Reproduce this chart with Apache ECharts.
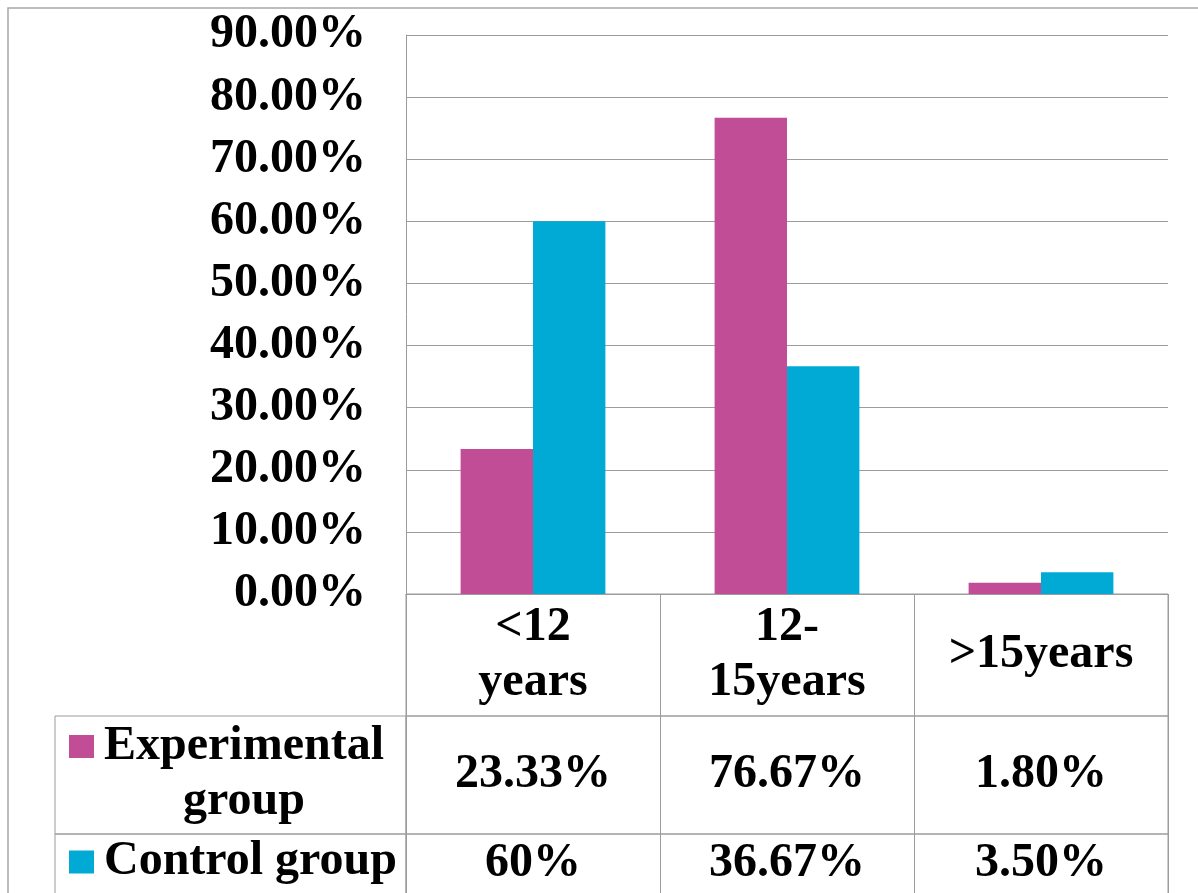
<!DOCTYPE html>
<html>
<head>
<meta charset="utf-8">
<title>Age groups</title>
<script src="https://cdn.jsdelivr.net/npm/echarts/dist/echarts.min.js"></script>
<style>
  html, body { margin: 0; padding: 0; background: #fff; }
  #chart { width: 1198px; height: 893px; }
</style>
</head>
<body>
<div id="chart"></div>
<script>
// Age categories along the x axis (also the header row of the data table)
const categories = ['<12\nyears', '12-\n15years', '>15years'];
const seriesNames = ['Experimental group', 'Control group'];
// Percentages as written in the data table; bars use the same numbers
const experimentalText = ['23.33', '76.67', '1.80'];
const controlText = ['60', '36.67', '3.50'];
// Legend cell text, wrapped as in the table
const legendLines = [['Experimental', 'group'], ['Control group']];
// Value axis range
const yMin = 0, yMax = 90, yStep = 10;
const seriesColors = ['#C24D97', '#00AAD5'];

const FONT = '"Liberation Serif", "Times New Roman", serif';
const LINE = '#9c9c9c';
const textBase = { fontFamily: FONT, fontSize: 48, fontWeight: 'bold', color: '#000' };

const rowTexts = [experimentalText, controlText];

function legendFormatter(i) {
  return () => {
    const lines = legendLines[i];
    let s = '{sq|}{gap|}{t|' + lines[0] + '}';
    for (let k = 1; k < lines.length; k++) s += '\n{pad|}{c|' + lines[k] + '}';
    return s;
  };
}

const chart = echarts.init(document.getElementById('chart'));

const tableGrid = (left, top, width, height) => ({
  left, top, width, height, show: true, borderColor: LINE, borderWidth: 1,
  backgroundColor: 'transparent', outerBoundsMode: 'none', containLabel: false
});

const option = {
  animation: false,
  backgroundColor: '#fff',
  grid: [
    { left: 406, top: 35, width: 762, height: 559, outerBoundsMode: 'none', containLabel: false },
    tableGrid(406, 594, 762, 122),
    tableGrid(406, 716, 762, 118),
    tableGrid(406, 834, 762, 60),
    tableGrid(55, 716, 351, 118),
    tableGrid(55, 834, 351, 60)
  ],
  xAxis: [
    {
      type: 'category', gridIndex: 0, data: categories,
      axisLine: { show: true, lineStyle: { color: LINE, width: 1 } },
      axisTick: { show: false },
      splitLine: { show: false },
      axisLabel: Object.assign({}, textBase, {
        interval: 0, margin: 61, verticalAlign: 'middle', lineHeight: 55, align: 'center'
      })
    },
    ...[1, 2, 3].map(g => ({
      type: 'category', gridIndex: g, data: categories,
      axisLine: { show: false }, axisTick: { show: false }, axisLabel: { show: false },
      splitLine: { show: true, interval: 0, lineStyle: { color: LINE, width: 1 } }
    })),
    { type: 'value', gridIndex: 4, show: false },
    { type: 'value', gridIndex: 5, show: false }
  ],
  yAxis: [
    {
      type: 'value', gridIndex: 0, min: yMin, max: yMax, interval: yStep,
      axisLine: { show: true, lineStyle: { color: LINE, width: 1 } },
      axisTick: { show: false },
      splitLine: { show: true, lineStyle: { color: LINE, width: 1 } },
      axisLabel: Object.assign({}, textBase, {
        margin: 40,
        formatter: v => v.toFixed(2) + '%'
      })
    },
    { type: 'value', gridIndex: 1, show: false },
    { type: 'category', gridIndex: 2, data: [seriesNames[0]], show: false },
    { type: 'category', gridIndex: 3, data: [seriesNames[1]], show: false },
    { type: 'value', gridIndex: 4, show: false },
    { type: 'value', gridIndex: 5, show: false }
  ],
  legend: seriesNames.map((name, i) => ({
    data: [name],
    orient: 'vertical',
    left: 64,
    top: [719, 834.5][i],
    padding: 0,
    itemWidth: 0,
    itemHeight: 0,
    selectedMode: false,
    formatter: legendFormatter(i),
    textStyle: Object.assign({}, textBase, {
      lineHeight: 55,
      rich: {
        sq: { width: 25, height: 23, backgroundColor: seriesColors[i] },
        gap: { width: 10 },
        pad: { width: 35 },
        t: Object.assign({}, textBase, { lineHeight: 55 }),
        c: Object.assign({}, textBase, { lineHeight: 55, align: 'center' })
      }
    })
  })),
  series: [
    ...seriesNames.map((name, i) => ({
      name, type: 'bar', xAxisIndex: 0, yAxisIndex: 0,
      data: rowTexts[i].map(Number),
      itemStyle: { color: seriesColors[i] },
      barGap: '0%', barCategoryGap: '43%'
    })),
    // data table value cells
    ...seriesNames.map((name, i) => ({
      type: 'scatter', xAxisIndex: 2 + i, yAxisIndex: 2 + i,
      silent: true, symbol: 'rect', symbolSize: 1,
      itemStyle: { color: '#fff', opacity: 1 },
      emphasis: { disabled: true },
      data: rowTexts[i].map((t, k) => [k, 0]),
      label: Object.assign({}, textBase, {
        show: true, position: 'inside', opacity: 1,
        textBorderWidth: 0, textShadowBlur: 0,
        formatter: p => rowTexts[i][p.dataIndex] + '%'
      })
    }))
  ],
  graphic: [{
    type: 'rect', silent: true, z: 100,
    shape: { x: 8, y: 8, width: 1400, height: 1000 },
    style: { fill: 'none', stroke: '#a8a8a8', lineWidth: 1.5 }
  }]
};

chart.setOption(option);
</script>
</body>
</html>
